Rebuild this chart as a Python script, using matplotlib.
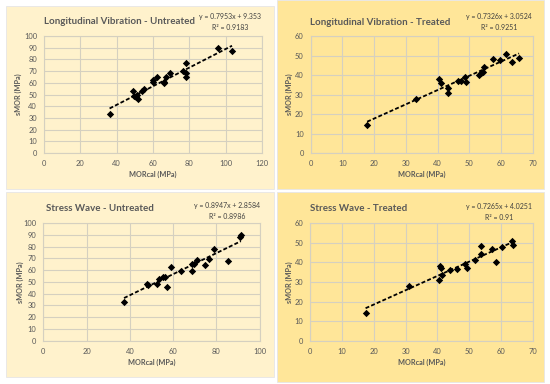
import numpy as np
import matplotlib.pyplot as plt
from matplotlib.patches import Rectangle

# data (MORcal vs sMOR, MPa)
lv_untreated_x = [36.1, 48.9, 49.8, 50.4, 51.0, 51.5, 54.2, 55.0, 60.1, 60.1, 62.1,
                  65.8, 65.8, 66.9, 69.6, 76.6, 77.9, 78.2, 78.4, 96.0, 103.5]
lv_untreated_y = [33.4, 53.4, 48.9, 47.7, 49.4, 46.3, 53.1, 54.3, 60.3, 62.0, 65.1,
                  60.0, 61.1, 64.6, 68.0, 70.0, 64.6, 77.1, 68.6, 89.4, 87.4]

lv_treated_x = [17.8, 33.2, 40.5, 41.0, 43.2, 43.2, 46.4, 47.4, 48.7, 49.0, 53.2,
                53.7, 54.2, 54.7, 57.6, 59.8, 61.6, 63.6, 65.7]
lv_treated_y = [14.2, 27.8, 38.1, 36.2, 33.4, 30.7, 36.9, 37.0, 39.3, 36.5, 40.3,
                41.0, 41.5, 44.2, 48.2, 47.8, 50.9, 46.8, 48.9]

sw_untreated_x = [37.3, 47.8, 48.2, 52.4, 53.3, 55.5, 56.2, 57.0, 58.8, 63.5, 68.5,
                  68.7, 69.6, 71.2, 74.8, 76.5, 78.9, 85.5, 91.0, 91.3]
sw_untreated_y = [32.9, 48.4, 47.0, 48.3, 52.0, 53.8, 54.2, 45.6, 62.2, 59.6, 65.0,
                  59.5, 65.0, 68.4, 64.1, 69.6, 77.5, 68.0, 88.0, 89.4]

sw_treated_x = [17.4, 31.0, 40.6, 40.8, 41.1, 41.5, 44.0, 46.2, 48.7, 49.4, 51.8,
                53.8, 53.8, 57.1, 58.4, 60.3, 63.5, 63.9]
sw_treated_y = [14.2, 27.8, 30.9, 38.1, 37.0, 33.7, 36.1, 36.8, 39.3, 37.0, 41.2,
                48.3, 44.2, 46.9, 40.2, 47.9, 51.0, 48.8]

# trendline coefficients as printed on the chart
slopes = [0.7953, 0.7326, 0.8947, 0.7265]
intercepts = [9.353, 3.0524, 2.8584, 4.0251]
eq_texts = ['y = 0.7953x + 9.353', 'y = 0.7326x + 3.0524',
            'y = 0.8947x + 2.8584', 'y = 0.7265x + 4.0251']
r2_texts = ['R² = 0.9183', 'R² = 0.9251', 'R² = 0.8986', 'R² = 0.91']
titles = ['Longitudinal Vibration - Untreated', 'Longitudinal Vibration - Treated',
          'Stress Wave - Untreated', 'Stress Wave - Treated']
x_maxes = [120, 70, 100, 70]
x_steps = [20, 10, 20, 10]
y_maxes = [100, 60, 100, 60]

xs = [lv_untreated_x, lv_treated_x, sw_untreated_x, sw_treated_x]
ys = [lv_untreated_y, lv_treated_y, sw_untreated_y, sw_treated_y]

W, H = 550, 384
CREAM = '#FFF2CC'
GOLD = '#FFE699'
GREY = '#595959'
plt.rcParams['font.family'] = ['Lato', 'DejaVu Sans']

fig = plt.figure(figsize=(W / 100, H / 100), dpi=100)
fig.patch.set_facecolor('white')


def fx(x):
    return x / W


def fy(y):
    return 1 - y / H


# pixel layout: panel box, plot area, text positions (top-left origin)
panels = [(6, 6, 274, 189), (277, 0, 544, 189), (6, 192, 274, 377), (277, 192, 544, 382)]
plot_areas = [(44, 36, 262, 153), (310.7, 36.3, 532.7, 153), (43.3, 223, 259.7, 340.7),
              (310.3, 223, 532.7, 341)]
title_pos = [(120, 22), (380, 22.7), (100, 208.7), (359, 208.7)]
eq_pos = [(230, 16, 27), (499, 16, 27.5), (227, 205.3, 216.3), (499.5, 206.3, 217.3)]
ylab_x = [18.5, 289.5, 20.5, 289.5]
xlab_y = [174, 174, 362, 362]
colors = [CREAM, GOLD, CREAM, GOLD]

for i in range(4):
    x0, y0, x1, y1 = panels[i]
    fig.patches.append(Rectangle((fx(x0), fy(y1)), fx(x1 - x0), (y1 - y0) / H,
                                 transform=fig.transFigure, facecolor=colors[i],
                                 edgecolor='#E6E6E6', linewidth=0.6, zorder=-5))

    l, t, r, b = plot_areas[i]
    ax = fig.add_axes([fx(l), fy(b), fx(r - l), (b - t) / H])
    ax.set_facecolor(colors[i])

    x = np.array(xs[i])
    y = np.array(ys[i])
    ax.scatter(x, y, marker='D', s=14, color='black', zorder=3, linewidths=0)

    # linear trendline over the data range
    xl = np.array([x.min(), x.max()])
    ax.plot(xl, slopes[i] * xl + intercepts[i], color='black', linestyle=(0, (2.2, 1.2)),
            linewidth=1.3, zorder=2)

    ax.set_xlim(0, x_maxes[i])
    ax.set_ylim(0, y_maxes[i])
    ax.set_xticks(np.arange(0, x_maxes[i] + 1, x_steps[i]))
    ax.set_yticks(np.arange(0, y_maxes[i] + 1, 10))
    ax.grid(True, color='#D5D0C0', linewidth=0.8)
    ax.set_axisbelow(True)
    ax.tick_params(length=0, labelsize=5.4, labelcolor=GREY, pad=5)
    for sp in ax.spines.values():
        sp.set_color('#D5D0C0')
        sp.set_linewidth(0.8)

    tx, ty = title_pos[i]
    fig.text(fx(tx), fy(ty), titles[i], ha='center', va='center', fontsize=7.0,
             fontweight='bold', color=GREY)
    ex, ey1, ey2 = eq_pos[i]
    fig.text(fx(ex), fy(ey1), eq_texts[i], ha='center', va='center', fontsize=5.0, color='#404040')
    fig.text(fx(ex), fy(ey2), r2_texts[i], ha='center', va='center', fontsize=5.0, color='#404040')
    fig.text(fx(ylab_x[i]), fy((t + b) / 2), 'sMOR (MPa)', ha='center', va='center',
             rotation=90, fontsize=5.2, fontweight='bold', color=GREY)
    fig.text(fx((l + r) / 2), fy(xlab_y[i]), 'MORcal (MPa)', ha='center', va='center',
             fontsize=5.2, fontweight='bold', color=GREY)

plt.savefig('out.png', dpi=100)
